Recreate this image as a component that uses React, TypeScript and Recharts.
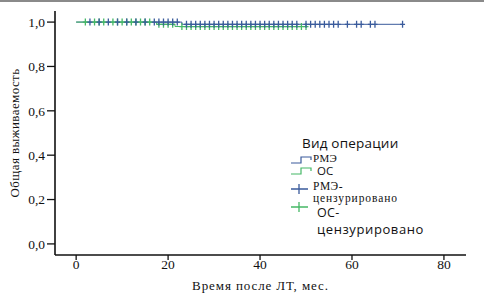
import { ComposedChart, Line, Scatter, XAxis, YAxis } from 'recharts';

const BLUE = '#3a5b9c';
const GREEN = '#45b866';

// survival steps (time, survival)
const rmeTimes = [0, 23, 71];
const rmeSurv = [1, 0.99, 0.99];
const osTimes = [0, 17.5, 21.5, 50];
const osSurv = [1, 0.99, 0.98, 0.98];

// censored observations
const rmeCensTimes = [
  3, 5, 7, 9, 11, 13, 15, 17, 18, 19, 20, 21, 22,
  24, 25, 26, 27, 28, 29, 30, 31, 32, 33, 34, 35, 36, 37, 38, 39, 40,
  41, 42, 43, 44, 45, 46, 47, 48, 50, 51, 52, 53, 54, 55, 56, 57,
  59, 61, 62, 64, 65, 71,
];
const osCensTimes = [
  2, 4, 5, 6, 8, 9, 10, 11, 12, 13, 14, 15, 16,
  18, 19, 20, 21,
  23, 24, 25, 26, 27, 28, 29, 30, 31, 32, 33, 34, 35, 36, 37, 38, 39,
  40, 41, 42, 43, 44, 45, 46, 47, 48, 49, 50,
];

const xTicks = [0, 20, 40, 60, 80];
const yTicks = [0, 0.2, 0.4, 0.6, 0.8, 1.0];

function survAt(times: number[], surv: number[], t: number) {
  let s = surv[0];
  times.forEach((tt, i) => {
    if (tt <= t) s = surv[i];
  });
  return s;
}

const rmeLine = rmeTimes.map((t, i) => ({ t, s: rmeSurv[i] }));
const osLine = osTimes.map((t, i) => ({ t, s: osSurv[i] }));
const rmeCens = rmeCensTimes.map((t) => ({ t, s: survAt(rmeTimes, rmeSurv, t) }));
const osCens = osCensTimes.map((t) => ({ t, s: survAt(osTimes, osSurv, t) }));

const serif = '"Liberation Serif", "DejaVu Serif", serif';
const sans = '"Open Sans", "DejaVu Sans", sans-serif';
const AXIS = '#111';

function Cross(color: string) {
  return (props: any) => {
    const { cx, cy } = props;
    return (
      <path
        d={`M${cx - 2.5},${cy}H${cx + 2.5}M${cx},${cy - 3.5}V${cy + 3.5}`}
        stroke={color}
        strokeWidth={1.3}
        fill="none"
      />
    );
  };
}

function Txt({ x, cy, size, family, spacing = 0, children }: any) {
  return (
    <div
      style={{
        position: 'absolute',
        left: x,
        top: cy - size / 2,
        height: size,
        lineHeight: `${size}px`,
        fontSize: size,
        fontFamily: family,
        letterSpacing: spacing,
        whiteSpace: 'nowrap',
        color: '#111',
      }}
    >
      {children}
    </div>
  );
}

function StepIcon({ x, cy, color }: { x: number; cy: number; color: string }) {
  return (
    <svg width={22} height={10} style={{ position: 'absolute', left: x, top: cy - 5 }}>
      <path d="M1,8H11V2H21V5" stroke={color} strokeWidth={1.2} fill="none" />
    </svg>
  );
}

function CrossIcon({ x, cy, color }: { x: number; cy: number; color: string }) {
  return (
    <svg width={22} height={12} style={{ position: 'absolute', left: x, top: cy - 6 }}>
      <path d="M1,6H18M9,1V11" stroke={color} strokeWidth={1.3} fill="none" />
    </svg>
  );
}

function LegendBox() {
  return (
    <>
      <Txt x={302} cy={142} size={13.5} family={sans} spacing={0.2}>Вид операции</Txt>
      <StepIcon x={290} cy={158} color={BLUE} />
      <Txt x={313} cy={156} size={11} family={serif} spacing={0.3}>РМЭ</Txt>
      <StepIcon x={290} cy={169} color={GREEN} />
      <Txt x={317} cy={169} size={11.5} family={sans}>ОС</Txt>
      <CrossIcon x={290} cy={187} color={BLUE} />
      <Txt x={313} cy={184.5} size={11.5} family={serif} spacing={0.5}>РМЭ-</Txt>
      <Txt x={313} cy={196.5} size={11.5} family={serif} spacing={0.9}>цензурировано</Txt>
      <CrossIcon x={290} cy={205} color={GREEN} />
      <Txt x={317} cy={211} size={12.5} family={sans} spacing={0.3}>ОС-</Txt>
      <Txt x={317} cy={227.5} size={13} family={sans} spacing={0.6}>цензурировано</Txt>
    </>
  );
}

export default function App() {
  return (
    <div
      style={{
        position: 'absolute',
        left: 0,
        top: 0,
        width: 484,
        height: 298,
        background: '#fff',
        borderTop: '2px solid #8a8a8a',
        boxSizing: 'border-box',
      }}
    >
      <ComposedChart
        width={484}
        height={296}
        margin={{ top: 9, right: 18, bottom: 0, left: 0 }}
        style={{ position: 'absolute', left: 0, top: 0 }}
      >
        <XAxis
          xAxisId="b"
          type="number"
          dataKey="t"
          domain={[-4.6, 84.8]}
          ticks={xTicks}
          allowDataOverflow
          tickSize={5}
          axisLine={{ stroke: AXIS, strokeWidth: 1.6 }}
          tickLine={{ stroke: AXIS, strokeWidth: 1.3 }}
          tick={{ fill: '#111', fontFamily: serif, fontSize: 13.5, dy: -3 }}
          height={43}
          label={{
            value: 'Время после ЛТ, мес.',
            position: 'insideBottom',
            offset: 8,
            fill: '#111',
            fontFamily: serif,
            fontSize: 13,
            letterSpacing: 0.9,
          }}
        />
        <XAxis
          xAxisId="top"
          orientation="top"
          type="number"
          dataKey="t"
          domain={[-4.6, 84.8]}
          allowDataOverflow
          tick={false}
          tickLine={false}
          height={0}
          axisLine={{ stroke: AXIS, strokeWidth: 1.6 }}
        />
        <YAxis
          yAxisId="l"
          type="number"
          domain={[-0.05, 1.05]}
          ticks={yTicks}
          allowDataOverflow
          width={55}
          tickSize={8}
          axisLine={{ stroke: AXIS, strokeWidth: 1.6 }}
          tickLine={{ stroke: AXIS, strokeWidth: 1.3 }}
          tickFormatter={(v: number) => v.toFixed(1).replace('.', ',')}
          tick={{ fill: '#111', fontFamily: serif, fontSize: 13.5 }}
          label={{
            value: 'Общая выживаемость',
            angle: -90,
            position: 'insideLeft',
            offset: 14,
            fill: '#111',
            fontFamily: serif,
            fontSize: 13,
            letterSpacing: 0.4,
            style: { textAnchor: 'middle' },
          }}
        />
        <YAxis
          yAxisId="r"
          orientation="right"
          type="number"
          domain={[-0.05, 1.05]}
          allowDataOverflow
          tick={false}
          tickLine={false}
          width={0}
          axisLine={{ stroke: AXIS, strokeWidth: 1.6 }}
        />
        <Line
          xAxisId="b"
          yAxisId="l"
          data={rmeLine}
          dataKey="s"
          type="stepAfter"
          stroke={BLUE}
          strokeWidth={1}
          dot={false}
          isAnimationActive={false}
        />
        <Line
          xAxisId="b"
          yAxisId="l"
          data={osLine}
          dataKey="s"
          type="stepAfter"
          stroke={GREEN}
          strokeWidth={1}
          dot={false}
          isAnimationActive={false}
        />
        <Scatter
          xAxisId="b"
          yAxisId="l"
          data={osCens}
          dataKey="s"
          shape={Cross(GREEN)}
          isAnimationActive={false}
        />
        <Scatter
          xAxisId="b"
          yAxisId="l"
          data={rmeCens}
          dataKey="s"
          shape={Cross(BLUE)}
          isAnimationActive={false}
        />
      </ComposedChart>
      <LegendBox />
    </div>
  );
}
